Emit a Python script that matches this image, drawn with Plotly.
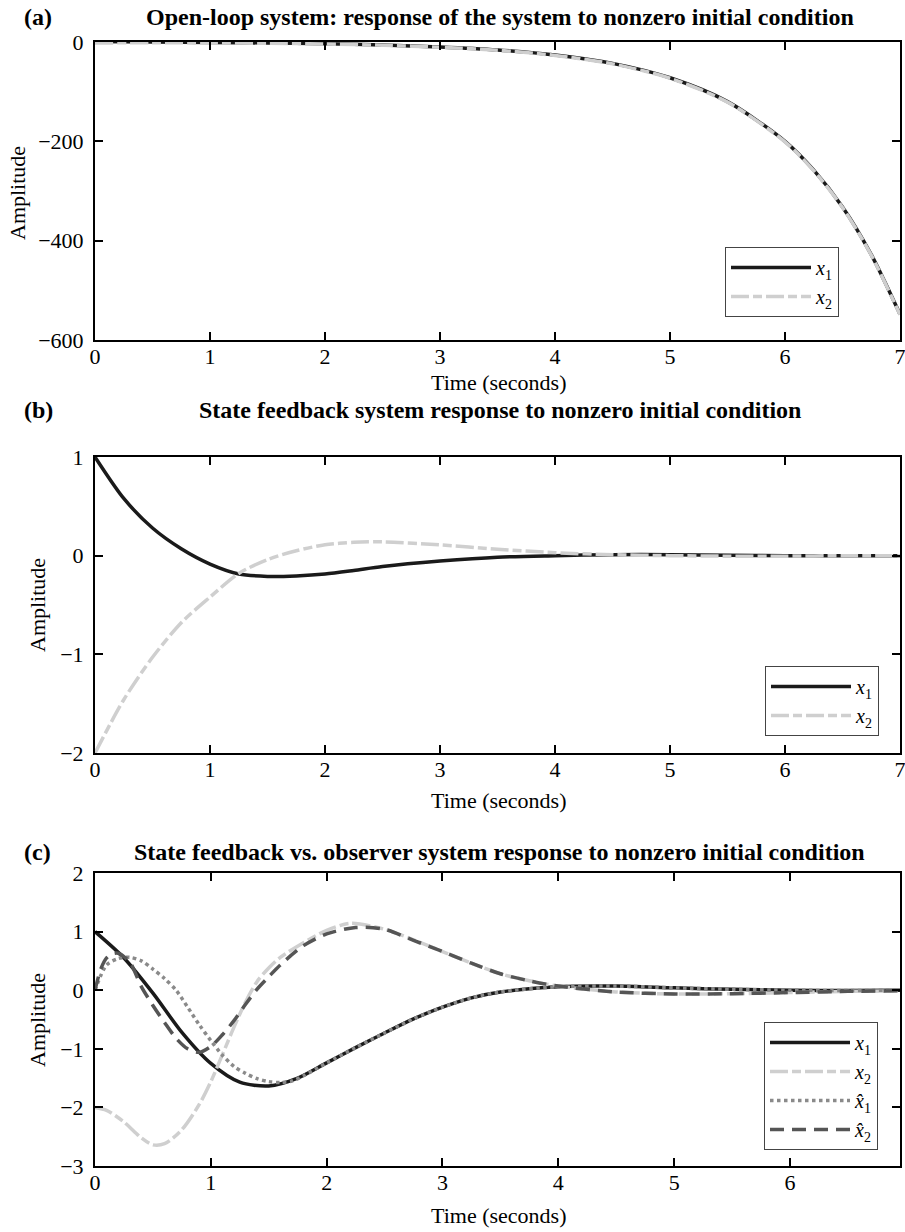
import plotly.graph_objects as go

# ---------------- Panel (a): open-loop ----------------
t_a = [0, 0.5, 1, 1.5, 2, 2.5, 3, 3.5, 4, 4.5, 5, 5.5, 6, 6.25, 6.5, 6.75, 7]
x1_a = [1, 0, -1, -2, -3.5, -6, -10, -16, -26, -43, -72, -120, -200, -258, -332, -428, -548]
x2_a = [-2, -1.5, -2, -2.5, -4, -6.5, -10.5, -16.5, -27, -44, -73, -121, -201, -259, -333, -429, -549]

# ---------------- Panel (b): state feedback ----------------
t_b = [0, 0.25, 0.5, 0.75, 1.0, 1.25, 1.5, 1.75, 2.0, 2.25, 2.5, 3.0, 3.5, 4.0, 4.5, 5.0, 5.5, 6.0, 6.5, 7.0]
x1_b = [1, 0.58, 0.28, 0.07, -0.085, -0.185, -0.21, -0.205, -0.186, -0.15, -0.11, -0.055, -0.015, 0.0, 0.01, 0.01, 0.005, 0.0, 0.0, 0.0]
x2_b = [-2, -1.46, -1.03, -0.68, -0.42, -0.18, -0.04, 0.05, 0.11, 0.135, 0.14, 0.11, 0.065, 0.03, 0.01, 0.0, -0.005, -0.005, 0.0, 0.0]

# ---------------- Panel (c): state feedback vs observer ----------------
t_c1 = [0, 0.25, 0.5, 0.75, 1.0, 1.25, 1.5, 1.75, 2.0, 2.25, 2.5, 2.75, 3.0, 3.25, 3.5, 4.0, 4.5, 5.0, 5.5, 6.0, 6.5, 6.95]
x1_c = [1, 0.55, -0.05, -0.72, -1.25, -1.57, -1.635, -1.50, -1.24, -0.98, -0.73, -0.49, -0.29, -0.13, -0.03, 0.06, 0.07, 0.04, 0.015, 0.0, -0.005, 0.0]

t_c2 = [0, 0.1, 0.25, 0.4, 0.5, 0.6, 0.75, 0.9, 1.0, 1.1, 1.2, 1.3, 1.4, 1.5, 1.6, 1.8, 2.0, 2.2, 2.5,
        2.75, 3.0, 3.25, 3.5, 3.75, 4.0, 4.5, 5.0, 5.5, 6.0, 6.5, 6.95]
x2_c = [-2.0, -2.05, -2.25, -2.52, -2.64, -2.62, -2.38, -1.95, -1.56, -1.1, -0.63, -0.2, 0.15, 0.38, 0.56, 0.81, 1.02, 1.14, 1.04,
        0.86, 0.66, 0.46, 0.28, 0.16, 0.07, -0.03, -0.065, -0.06, -0.04, -0.02, -0.01]

t_c3 = [0, 0.1, 0.2, 0.3, 0.4, 0.5, 0.6, 0.7, 0.8, 0.9, 1.0, 1.1, 1.2, 1.3, 1.4, 1.5, 1.6, 1.7, 1.8, 2.0,
        2.25, 2.5, 2.75, 3.0, 3.25, 3.5, 4.0, 4.5, 5.0, 5.5, 6.0, 6.5, 6.95]
x1h_c = [0, 0.43, 0.54, 0.56, 0.50, 0.36, 0.2, 0.0, -0.29, -0.59, -0.86, -1.11, -1.30, -1.42, -1.51, -1.56, -1.575, -1.55, -1.46, -1.24,
         -0.98, -0.73, -0.49, -0.29, -0.13, -0.03, 0.06, 0.07, 0.04, 0.015, 0.0, -0.005, 0.0]

t_c4 = [0, 0.05, 0.1, 0.15, 0.2, 0.3, 0.4, 0.5, 0.6, 0.7, 0.8, 0.9, 1.0, 1.1, 1.2, 1.3, 1.4, 1.5, 1.6, 1.8, 2.0,
        2.25, 2.5, 2.75, 3.0, 3.25, 3.5, 3.75, 4.0, 4.5, 5.0, 5.5, 6.0, 6.5, 6.95]
x2h_c = [0, 0.36, 0.55, 0.62, 0.63, 0.48, 0.06, -0.26, -0.55, -0.82, -1.0, -1.06, -0.96, -0.76, -0.52, -0.24, 0.02, 0.23, 0.43, 0.76, 0.96,
         1.07, 1.04, 0.85, 0.66, 0.46, 0.28, 0.16, 0.07, -0.03, -0.065, -0.06, -0.04, -0.02, -0.01]

titles = ["Open-loop system: response of the system to nonzero initial condition",
          "State feedback system response to nonzero initial condition",
          "State feedback vs. observer system response to nonzero initial condition"]
panel_tags = ["(a)", "(b)", "(c)"]
xlabel = "Time (seconds)"
ylabel = "Amplitude"

FONT = "Liberation Serif"
W, H = 905, 1232
L, R = 95, 5

def py(p):  # pixel y -> paper y
    return 1 - p / H

def px(p):  # pixel x -> paper x
    return (p - L) / (W - L - R)

BLACK = "#1a1a1a"
LIGHT = "#cfcfcf"
MID = "#8a8a8a"
DARK = "#555555"
LW = 3.5
DASHDOT = "18px,4px,9px,4px"

fig = go.Figure()

def add(t, y, name, color, dash, xa, ya, leg):
    fig.add_trace(go.Scatter(
        x=t, y=y, name=name, mode="lines",
        line=dict(color=color, width=LW, dash=dash, shape="spline", smoothing=0.8),
        xaxis=xa, yaxis=ya, legend=leg))

X1 = "<i>x</i><sub>1</sub>"
X2 = "<i>x</i><sub>2</sub>"
X1H = "<i>x̂</i><sub>1</sub>"
X2H = "<i>x̂</i><sub>2</sub>"

add(t_a, x1_a, X1, BLACK, "solid", "x", "y", "legend")
add(t_a, x2_a, X2, LIGHT, DASHDOT, "x", "y", "legend")
add(t_b, x1_b, X1, BLACK, "solid", "x2", "y2", "legend2")
add(t_b, x2_b, X2, LIGHT, DASHDOT, "x2", "y2", "legend2")
add(t_c1, x1_c, X1, BLACK, "solid", "x3", "y3", "legend3")
add(t_c2, x2_c, X2, LIGHT, DASHDOT, "x3", "y3", "legend3")
add(t_c3, x1h_c, X1H, MID, "3.5px,3.5px", "x3", "y3", "legend3")
add(t_c4, x2h_c, X2H, DARK, "14px,8px", "x3", "y3", "legend3")

axis_common = dict(showline=True, linecolor="black", linewidth=2, mirror="ticks",
                   ticks="inside", ticklen=8, tickwidth=2, tickcolor="black",
                   showgrid=False, zeroline=False, ticklabeloverflow="allow",
                   tickfont=dict(family=FONT, size=22, color="black"))
xcommon = dict(axis_common, ticklabelstandoff=-4)
ycommon = dict(axis_common, ticklabelstandoff=5)

doms = [(py(340), py(42)), (py(753), py(457)), (py(1166), py(873))]

layout = dict(
    width=W, height=H,
    margin=dict(l=L, r=R, t=0, b=0, autoexpand=False),
    paper_bgcolor="white", plot_bgcolor="white",
    font=dict(family=FONT, size=22, color="black"),
    xaxis=dict(domain=[0, 1], range=[0, 7], dtick=1, anchor="y", **xcommon),
    yaxis=dict(domain=list(doms[0]), range=[-600, 0], dtick=200, anchor="x", **ycommon),
    xaxis2=dict(domain=[0, 1], range=[0, 7], dtick=1, anchor="y2", **xcommon),
    yaxis2=dict(domain=list(doms[1]), range=[-2, 1], dtick=1, anchor="x2", **ycommon),
    xaxis3=dict(domain=[0, 1], range=[0, 6.95], dtick=1, anchor="y3", **xcommon),
    yaxis3=dict(domain=list(doms[2]), range=[-3, 2], dtick=1, anchor="x3", **ycommon),
)

def leg(xr, yb):
    return dict(x=px(xr), y=py(yb), xanchor="right", yanchor="bottom",
                bgcolor="white", bordercolor="#444444", borderwidth=1,
                font=dict(family=FONT, size=20, color="black"),
                itemwidth=80, tracegroupgap=0)

layout["legend"] = leg(839, 317)
layout["legend2"] = leg(879, 736)
layout["legend3"] = leg(878, 1150)
layout["showlegend"] = True
fig.update_layout(**layout)

ann = []
title_y = [17, 410, 852]
xlab_y = [382, 800, 1215]
ylab_x = [18, 37, 37]
ylab_y = [193, 605, 1020]
for i in range(3):
    ann.append(dict(text="<b>" + panel_tags[i] + "</b>", x=px(22), y=py(title_y[i]), xref="paper", yref="paper",
                    xanchor="left", yanchor="middle", showarrow=False, font=dict(family=FONT, size=24)))
    ann.append(dict(text="<b>" + titles[i] + "</b>", x=px(500), y=py(title_y[i]), xref="paper", yref="paper",
                    xanchor="center", yanchor="middle", showarrow=False, font=dict(family=FONT, size=24)))
    ann.append(dict(text=xlabel, x=px(498), y=py(xlab_y[i]), xref="paper", yref="paper",
                    xanchor="center", yanchor="middle", showarrow=False, font=dict(family=FONT, size=22)))
    ann.append(dict(text=ylabel, x=px(ylab_x[i]), y=py(ylab_y[i]), xref="paper", yref="paper",
                    xanchor="center", yanchor="middle", textangle=-90, showarrow=False,
                    font=dict(family=FONT, size=22)))
fig.update_layout(annotations=ann)

fig.write_html("out.html")
